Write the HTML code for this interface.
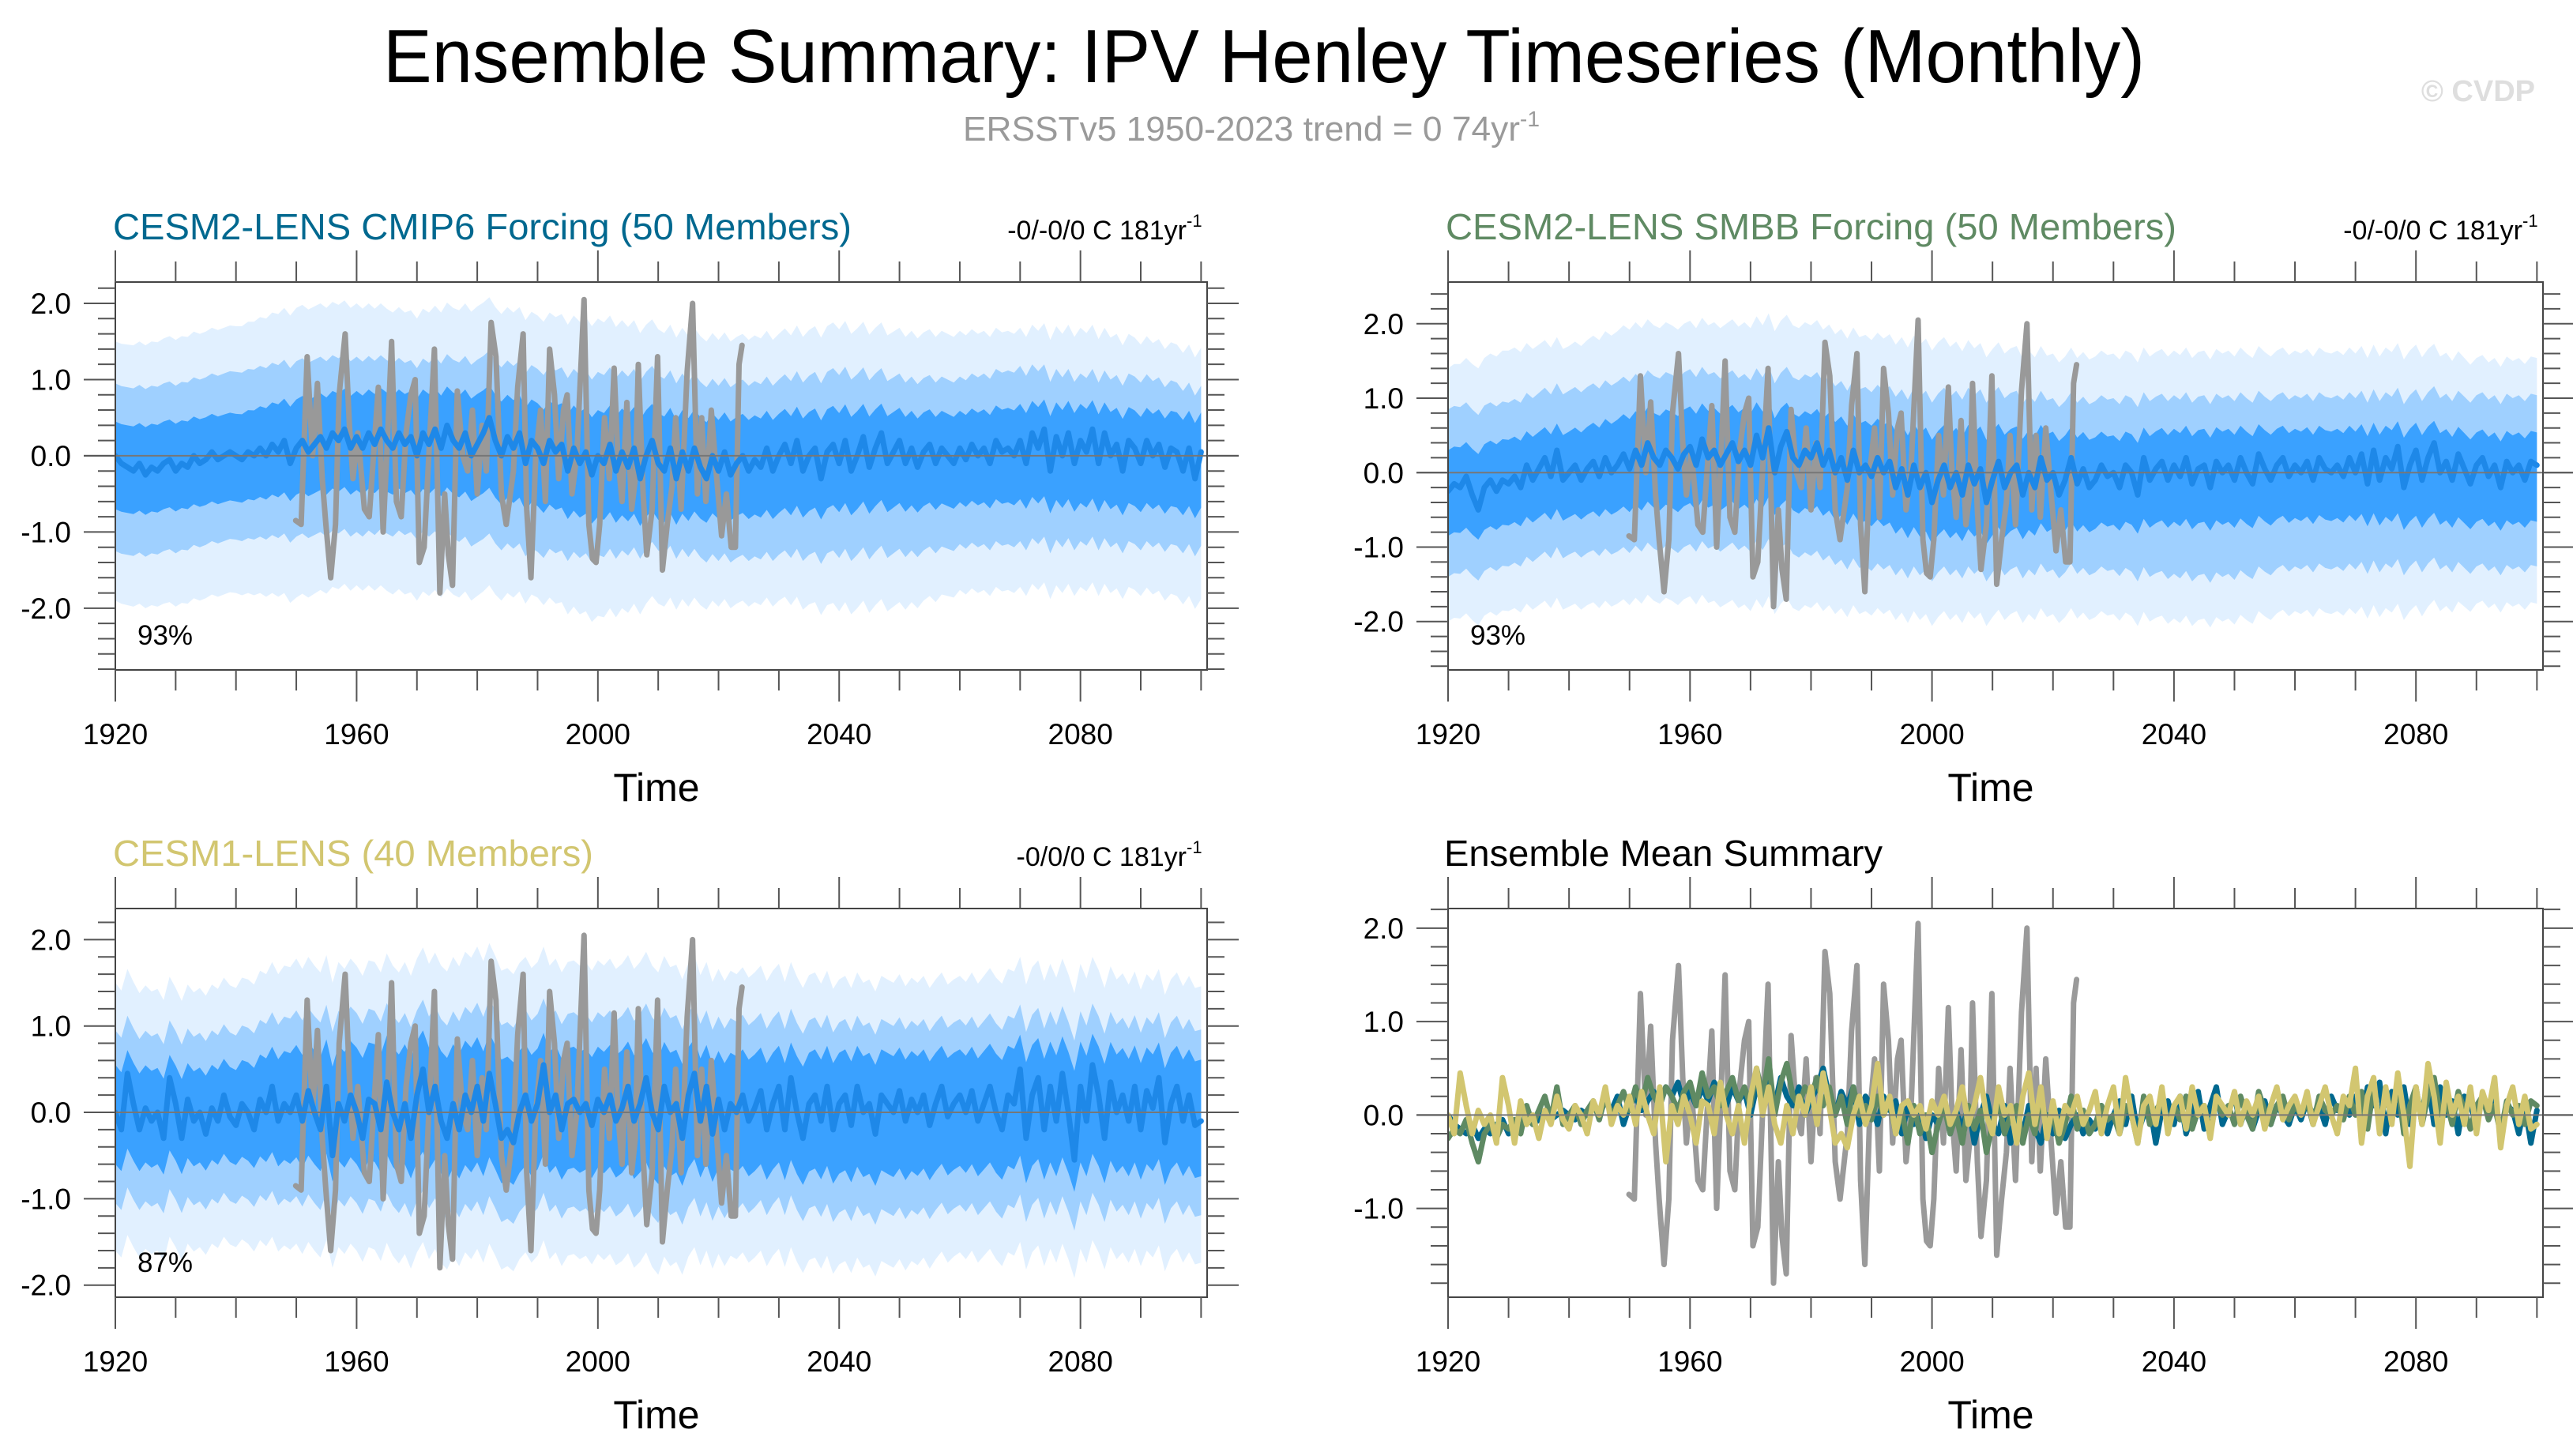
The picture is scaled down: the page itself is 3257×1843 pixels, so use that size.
<!DOCTYPE html>
<html><head><meta charset="utf-8"><title>Ensemble Summary: IPV Henley Timeseries (Monthly)</title>
<style>
html,body{margin:0;padding:0;background:#fff;}
svg{display:block;font-family:"Liberation Sans",Arial,sans-serif;}
</style></head>
<body>
<svg id="fig" xmlns="http://www.w3.org/2000/svg" width="3257" height="1843" viewBox="0 0 3257 1843">
<rect width="3257" height="1843" fill="#fff"/>
<text x="1600" y="104" font-size="96" text-anchor="middle" textLength="2230" lengthAdjust="spacingAndGlyphs">Ensemble Summary: IPV Henley Timeseries (Monthly)</text>
<text x="1219" y="178" font-size="44" fill="#9a9a9a" textLength="730" lengthAdjust="spacingAndGlyphs">ERSSTv5 1950-2023 trend = 0 74yr<tspan dy="-18" font-size="28">-1</tspan></text>
<text x="3209" y="128" font-size="38" fill="#dedede" text-anchor="end" font-weight="bold">© CVDP</text>
<g id="panels"></g>
</svg>
<script>
// ---------- data ----------
const years = [];
for (let y = 1920; y <= 2100; y++) years.push(y);
const meanCMIP6 = [0.0,-0.1,-0.15,-0.2,-0.1,-0.25,-0.15,-0.2,-0.1,-0.05,
-0.2,-0.1,-0.15,0.0,-0.1,-0.05,0.05,-0.05,0.0,0.05,
0.0,-0.05,0.05,0.0,0.1,0.0,0.15,0.05,0.2,-0.1,
0.1,0.2,0.05,0.15,0.25,0.1,0.3,0.2,0.35,0.1,
0.25,0.1,0.3,0.15,0.35,0.2,0.1,0.3,0.15,0.25,
0.0,0.3,0.15,0.35,0.1,0.4,0.2,0.1,0.3,0.0,
0.15,0.3,0.5,0.2,0.0,0.25,0.1,0.3,-0.1,0.2,
0.1,-0.1,0.2,0.05,0.15,-0.2,0.1,-0.1,0.05,-0.25,
0.0,-0.1,0.15,-0.2,0.05,-0.15,0.1,-0.3,0.0,0.2,
-0.1,-0.2,0.1,-0.3,0.05,-0.2,0.1,-0.15,-0.3,0.0,
-0.2,0.05,-0.25,-0.1,0.0,-0.2,-0.05,-0.15,0.1,-0.2,
0.0,0.15,-0.1,0.2,-0.2,0.0,0.1,-0.3,0.05,0.15,
-0.1,0.2,-0.2,0.0,0.25,-0.15,0.1,0.3,-0.1,0.05,
0.2,-0.1,0.1,-0.15,0.05,0.15,-0.1,0.1,0.0,-0.1,
0.1,-0.05,0.15,0.0,0.1,-0.1,0.2,0.05,0.1,0.0,
0.2,-0.1,0.3,0.1,0.35,-0.2,0.25,0.0,0.3,-0.1,
0.2,0.05,0.35,-0.1,0.3,0.0,0.15,-0.2,0.2,0.1,
-0.1,0.2,0.0,0.15,-0.15,0.1,0.05,-0.2,0.1,-0.3,0.05];
const meanSMBB = [-0.25,-0.15,-0.2,-0.05,-0.3,-0.5,-0.2,-0.1,-0.25,-0.1,
-0.15,-0.05,-0.2,0.1,-0.1,0.05,0.2,-0.05,0.3,-0.1,
0.0,0.1,-0.1,0.05,0.15,-0.05,0.2,0.0,0.1,0.25,
0.05,0.3,0.1,0.4,0.2,0.1,0.3,0.2,0.05,0.25,
0.35,0.1,0.45,0.2,0.3,0.1,0.25,0.4,0.15,0.3,
0.1,0.5,0.2,0.6,0.0,0.35,0.55,0.2,0.1,0.3,
0.2,0.4,0.1,0.3,0.0,0.2,-0.1,0.3,0.0,0.1,
-0.05,0.2,0.0,0.15,-0.2,0.05,-0.3,0.1,-0.2,0.0,
-0.4,-0.1,0.1,-0.2,0.0,-0.3,0.1,-0.15,0.05,-0.4,
-0.1,0.15,-0.2,0.0,0.1,-0.3,0.0,-0.2,0.2,-0.1,
0.0,-0.3,-0.1,0.2,-0.15,0.05,-0.2,-0.1,0.1,-0.05,
0.0,-0.2,0.1,0.0,-0.3,0.2,-0.1,0.05,0.15,-0.1,
0.1,-0.05,0.2,-0.15,0.05,0.1,-0.2,0.15,0.0,0.1,
-0.1,0.2,0.0,-0.15,0.25,0.05,-0.1,0.1,0.2,-0.05,
0.1,0.0,0.15,-0.1,0.2,0.05,0.0,0.1,-0.05,0.2,
0.0,0.25,-0.15,0.3,-0.1,0.2,0.05,0.35,-0.2,0.1,
0.3,-0.1,0.2,0.4,0.0,0.15,-0.1,0.25,0.05,-0.15,
0.1,0.2,-0.05,0.1,-0.2,0.15,0.0,0.1,-0.1,0.15,0.1];
const meanCESM1 = [0.0,-0.2,0.45,0.1,-0.2,0.05,-0.1,0.0,-0.3,0.4,
0.1,-0.3,0.15,-0.1,0.0,-0.25,0.05,-0.1,0.2,-0.05,
-0.15,0.1,0.0,-0.2,0.15,0.0,0.3,-0.1,0.1,0.0,
0.2,-0.1,0.25,0.0,-0.2,0.3,-0.5,0.1,-0.1,0.2,
0.0,-0.3,0.15,0.1,-0.2,0.35,0.0,-0.2,0.1,-0.3,
0.2,0.5,0.0,0.3,-0.1,-0.3,0.1,-0.2,0.2,0.0,
0.3,-0.1,0.45,0.1,-0.3,-0.2,-0.35,0.0,0.2,-0.1,
0.1,0.55,0.0,0.2,-0.2,0.1,0.15,0.0,0.1,-0.15,
0.15,0.0,0.2,-0.1,0.05,0.3,-0.1,0.1,0.4,0.0,
-0.2,0.3,0.0,0.1,-0.3,0.2,0.45,-0.1,0.3,-0.25,
0.15,-0.2,0.1,0.0,0.2,-0.1,0.05,0.25,-0.2,0.1,
0.3,-0.2,0.4,0.0,-0.3,0.1,0.2,-0.1,0.3,-0.2,
0.1,0.2,-0.15,0.3,0.0,0.1,-0.25,0.2,0.1,0.0,
0.25,-0.1,0.15,0.0,0.2,-0.15,0.1,0.3,-0.05,0.1,
0.2,0.0,0.25,-0.1,0.1,0.3,0.0,-0.2,0.2,0.1,
0.5,-0.3,0.2,0.4,-0.2,0.3,-0.1,0.45,0.0,-0.55,
0.3,-0.1,0.55,0.2,-0.3,0.35,0.0,0.2,-0.1,0.3,
-0.2,0.25,0.05,0.4,-0.35,0.1,0.3,-0.1,0.2,-0.15,-0.1];
const obsYears = [1949.9,1950.8,1951.8,1952.7,1953.5,1954.3,1954.9,1955.7,1956.5,1957.1,1958.1,1958.8,1959.4,1960.2,1961.3,1962.1,1962.8,1963.6,1964.4,1965.1,1965.8,1966.6,1967.4,1968.2,1969.0,1969.7,1970.4,1971.2,1972.1,1972.9,1973.8,1974.6,1975.2,1975.9,1976.7,1977.6,1978.4,1979.2,1980.0,1980.8,1981.5,1982.3,1983.1,1984.0,1984.8,1986.0,1986.7,1987.6,1988.2,1988.9,1989.7,1990.5,1991.3,1992.0,1992.8,1993.5,1994.3,1994.9,1995.7,1996.5,1997.7,1998.5,1999.1,1999.7,2000.3,2001.1,2001.9,2002.7,2003.3,2004.0,2004.8,2005.6,2006.2,2006.7,2007.5,2008.1,2009.0,2009.9,2010.7,2011.5,2012.3,2012.9,2013.8,2014.8,2015.7,2016.5,2017.2,2017.9,2018.8,2019.6,2020.5,2021.3,2022.1,2022.8,2023.4,2023.9];
const obsValues = [-0.85,-0.9,1.3,0.0,0.95,-0.3,-0.9,-1.6,-0.9,0.8,1.6,0.4,-0.3,0.3,-0.7,-0.8,0.0,0.9,-1.0,0.2,1.5,-0.6,-0.8,0.3,0.8,1.0,-1.4,-1.2,0.2,1.4,-1.8,-0.5,-1.3,-1.7,0.85,0.0,-0.2,0.6,-0.5,0.4,-0.2,1.75,1.3,-0.5,-0.9,-0.2,0.9,1.6,-0.7,-1.6,0.0,0.6,-0.6,1.4,0.8,-0.3,0.6,0.8,-0.5,0.0,2.05,-0.9,-1.35,-1.4,-0.9,0.5,-0.3,1.15,0.0,-0.6,0.7,-0.7,-0.3,1.2,-0.5,-1.3,-0.7,1.3,-1.5,-0.9,-0.4,0.5,-0.7,1.1,2.0,-0.5,0.5,-0.6,0.6,-0.2,-1.05,-0.5,-1.2,-1.2,1.2,1.45];
// spread envelopes per decade (1920..2100), absolute values
const decades = [1920,1930,1940,1950,1960,1970,1980,1990,2000,2010,2020,2030,2040,2050,2060,2070,2080,2090,2100];
const p1ExtHi=[1.5,1.6,1.7,1.9,1.9,1.8,1.9,1.8,1.8,1.7,1.6,1.6,1.7,1.6,1.6,1.6,1.6,1.5,1.4];
const p1ExtLo=[-1.9,-1.9,-1.8,-1.9,-1.8,-1.9,-1.9,-1.9,-2.1,-1.9,-1.9,-1.9,-2.0,-2.0,-1.8,-1.8,-1.8,-1.8,-1.9];
const p1OutHi=[0.95,1.0,1.1,1.2,1.2,1.15,1.2,1.1,1.1,1.1,1.0,1.0,1.1,1.0,1.0,1.1,1.0,1.0,0.9];
const p1OutLo=[-1.25,-1.2,-1.1,-1.1,-1.1,-1.1,-1.2,-1.3,-1.3,-1.2,-1.3,-1.3,-1.3,-1.3,-1.2,-1.2,-1.2,-1.2,-1.2];
const p1InHi=[0.45,0.5,0.55,0.7,0.75,0.75,0.75,0.65,0.6,0.6,0.55,0.55,0.6,0.55,0.55,0.6,0.6,0.55,0.55];
const p1InLo=[-0.7,-0.65,-0.6,-0.55,-0.55,-0.55,-0.6,-0.7,-0.8,-0.8,-0.75,-0.75,-0.7,-0.7,-0.65,-0.65,-0.7,-0.7,-0.7];
const p2ExtHi=[1.5,1.7,1.7,1.9,1.9,1.9,1.9,1.8,1.8,1.7,1.6,1.6,1.6,1.6,1.6,1.6,1.6,1.5,1.5];
const p2ExtLo=[-1.9,-1.8,-1.8,-1.8,-1.8,-1.9,-1.9,-1.9,-1.9,-1.9,-1.9,-1.9,-2.0,-2.0,-1.9,-1.9,-1.9,-1.8,-1.8];
const p2OutHi=[0.95,1.0,1.1,1.2,1.25,1.2,1.2,1.1,1.1,1.1,1.0,1.0,1.0,1.0,1.0,1.0,1.0,1.0,1.0];
const p2OutLo=[-1.3,-1.2,-1.1,-1.1,-1.1,-1.1,-1.2,-1.3,-1.3,-1.3,-1.3,-1.3,-1.4,-1.4,-1.3,-1.3,-1.3,-1.3,-1.3];
const p2InHi=[0.4,0.5,0.55,0.7,0.75,0.75,0.7,0.65,0.6,0.6,0.55,0.5,0.55,0.55,0.55,0.55,0.55,0.5,0.5];
const p2InLo=[-0.75,-0.65,-0.6,-0.55,-0.55,-0.55,-0.6,-0.7,-0.8,-0.8,-0.75,-0.7,-0.7,-0.7,-0.65,-0.65,-0.7,-0.7,-0.7];
const p3ExtHi=[1.5,1.4,1.5,1.7,1.7,1.7,1.8,1.7,1.7,1.7,1.6,1.6,1.5,1.5,1.5,1.6,1.6,1.5,1.5];
const p3ExtLo=[-1.6,-1.6,-1.5,-1.6,-1.6,-1.7,-1.7,-1.7,-1.7,-1.8,-1.7,-1.7,-1.8,-1.8,-1.7,-1.7,-1.7,-1.7,-1.7];
const p3OutHi=[0.95,0.9,0.95,1.1,1.15,1.1,1.15,1.1,1.1,1.1,1.05,1.05,1.0,1.0,1.0,1.05,1.05,1.0,1.0];
const p3OutLo=[-1.05,-1.05,-1.0,-1.05,-1.05,-1.1,-1.15,-1.15,-1.15,-1.2,-1.15,-1.1,-1.2,-1.2,-1.15,-1.15,-1.15,-1.15,-1.15];
const p3InHi=[0.55,0.5,0.55,0.7,0.75,0.75,0.75,0.7,0.7,0.7,0.65,0.65,0.65,0.65,0.65,0.7,0.7,0.65,0.65];
const p3InLo=[-0.6,-0.6,-0.55,-0.6,-0.6,-0.65,-0.7,-0.7,-0.7,-0.75,-0.7,-0.7,-0.75,-0.75,-0.7,-0.7,-0.7,-0.7,-0.7];
const xTickLabels = [1920,1960,2000,2040,2080];
const yTicks1 = [-2.0,-1.0,0.0,1.0,2.0];
const yTicks4 = [-1.0,0.0,1.0,2.0];

// ---------- drawing ----------
const NS = "http://www.w3.org/2000/svg";
const root = document.getElementById('panels');
function mk(tag, attrs, parent) {
  const e = document.createElementNS(NS, tag);
  for (const k in attrs) e.setAttribute(k, attrs[k]);
  (parent || root).appendChild(e);
  return e;
}
function interp(ys, vs, y) {
  if (y <= ys[0]) return vs[0];
  for (let i = 1; i < ys.length; i++) if (y <= ys[i]) {
    const t = (y - ys[i-1]) / (ys[i] - ys[i-1]);
    return vs[i-1] + t * (vs[i] - vs[i-1]);
  }
  return vs[vs.length-1];
}
const panelsCfg = [
  {name:'cmip6', L:146, R:1528, T:357, B:848, ymin:-2.81, ymax:2.28, yt:yTicks1, title:'CESM2-LENS CMIP6 Forcing (50 Members)', tcol:'#00688f', tlen:935, trend:'-0/-0/0 C 181yr', mean:meanCMIP6, ext:[p1ExtHi,p1ExtLo], out:[p1OutHi,p1OutLo], inn:[p1InHi,p1InLo], pct:'93%'},
  {name:'smbb', L:1833, R:3219, T:357, B:848, ymin:-2.65, ymax:2.56, yt:yTicks1, title:'CESM2-LENS SMBB Forcing (50 Members)', tcol:'#5f8a63', tlen:925, trend:'-0/-0/0 C 181yr', mean:meanSMBB, ext:[p2ExtHi,p2ExtLo], out:[p2OutHi,p2OutLo], inn:[p2InHi,p2InLo], pct:'93%'},
  {name:'cesm1', L:146, R:1528, T:1150, B:1642, ymin:-2.14, ymax:2.36, yt:yTicks1, title:'CESM1-LENS (40 Members)', tcol:'#d2c670', tlen:608, trend:'-0/0/0 C 181yr', mean:meanCESM1, ext:[p3ExtHi,p3ExtLo], out:[p3OutHi,p3OutLo], inn:[p3InHi,p3InLo], pct:'87%'},
  {name:'summary', L:1833, R:3219, T:1150, B:1642, ymin:-1.95, ymax:2.21, yt:yTicks4, title:'Ensemble Mean Summary', tcol:'#000', tlen:555, summary:true}
];
panelsCfg.forEach(P => {
  const g = mk('g', {});
  
  
  const xs = v => P.L + (v - 1920) / 181 * (P.R - P.L);
  const ys = v => P.T + (P.ymax - v) / (P.ymax - P.ymin) * (P.B - P.T);
  const clipId = 'clip-' + P.name;
  const cp = mk('clipPath', {id: clipId}, g);
  mk('rect', {x:P.L, y:P.T, width:P.R-P.L, height:P.B-P.T}, cp);
  const plot = mk('g', {'clip-path':'url(#' + clipId + ')'}, g);
  function band(hiArr, loArr, fill, nm, op) {
    let up = [], dn = [];
    years.forEach((yr, i) => {
      const m = P.mean[i] * 0.4;
      up.push(xs(yr).toFixed(1) + ',' + ys(m + interp(decades, hiArr, yr)).toFixed(1));
      dn.unshift(xs(yr).toFixed(1) + ',' + ys(m + interp(decades, loArr, yr)).toFixed(1));
    });
    const p = mk('polygon', {points: up.concat(dn).join(' '), fill: fill, opacity: op}, plot);
    
    
  }
  function line(xv, yv, col, w, nm) {
    const pts = xv.map((x, i) => xs(x).toFixed(1) + ',' + ys(yv[i]).toFixed(1)).join(' ');
    const l = mk('polyline', {points: pts, fill:'none', stroke: col, 'stroke-width': w, 'stroke-linejoin':'round', 'stroke-linecap':'round'}, plot);
    
    
  }
  if (!P.summary) {
    band(P.ext[0], P.ext[1], '#a9d5fe', 'spread-extreme-band', 0.35);
    band(P.out[0], P.out[1], '#9fd0ff', 'spread-outer-band', 1);
    band(P.inn[0], P.inn[1], '#3aa1ff', 'spread-inner-band', 1);
  }
  // zero line
  mk('line', {x1:P.L - 40, x2:P.R + 40, y1:ys(0), y2:ys(0), stroke:'#777', 'stroke-width':2}, g);
  if (!P.summary) {
    line(obsYears, obsValues, '#999999', 7, 'observed-ersst-line');
    line(years, P.mean, '#1e88e8', 7, 'ensemble-mean-line');
  } else {
    line(obsYears, obsValues, '#9a9a9a', 7, 'observed-ersst-line');
    line(years, meanCMIP6, '#00688f', 7, 'cmip6-mean-line');
    line(years, meanSMBB, '#5f8a63', 7, 'smbb-mean-line');
    line(years, meanCESM1, '#d2c670', 7, 'cesm1-mean-line');
  }
  // frame
  const fr = mk('rect', {x:P.L, y:P.T, width:P.R-P.L, height:P.B-P.T, fill:'none', stroke:'#444', 'stroke-width':2}, g);
  
  
  // x ticks
  for (let yr = 1920; yr <= 2100; yr += 10) {
    const major = (yr - 1920) % 40 === 0;
    const len = major ? 40 : 26;
    const x = xs(yr);
    mk('line', {x1:x, x2:x, y1:P.T, y2:P.T - len, stroke:'#555', 'stroke-width':2}, g);
    mk('line', {x1:x, x2:x, y1:P.B, y2:P.B + len, stroke:'#555', 'stroke-width':2}, g);
  }
  xTickLabels.forEach(v => {
    const t = mk('text', {x: xs(v), y: P.B + 94, 'font-size':37, 'text-anchor':'middle'}, g);
    t.textContent = v;
    
    
  });
  // y ticks
  for (let k = Math.ceil(P.ymin * 5); k <= Math.floor(P.ymax * 5); k++) {
    const v = k / 5, y = ys(v);
    const major = k % 5 === 0;
    const len = major ? 40 : 22;
    mk('line', {x1:P.L, x2:P.L - len, y1:y, y2:y, stroke:'#555', 'stroke-width':2}, g);
    mk('line', {x1:P.R, x2:P.R + len, y1:y, y2:y, stroke:'#555', 'stroke-width':2}, g);
  }
  P.yt.forEach(v => {
    const t = mk('text', {x: P.L - 56, y: ys(v) + 13, 'font-size':37, 'text-anchor':'end'}, g);
    t.textContent = v.toFixed(1);
    
    
  });
  // titles
  const tt = mk('text', {x: P.L - (P.summary ? 5 : 3), y: P.T - 54, 'font-size':46, fill:P.tcol, textLength:P.tlen, lengthAdjust:'spacingAndGlyphs'}, g);
  tt.textContent = P.title;
  
  
  if (P.trend) {
    const tr = mk('text', {x: P.R - 26, y: P.T - 54, 'font-size':34, 'text-anchor':'end'}, g);
    tr.textContent = P.trend;
    
    
    const sup = mk('text', {x: P.R - 26, y: P.T - 70, 'font-size':22}, g);
    sup.textContent = '-1';
    
    
    const pc = mk('text', {x: P.L + 28, y: P.B - 32, 'font-size':35}, g);
    pc.textContent = P.pct;
    
    
  }
  const xl = mk('text', {x: (P.L + P.R) / 2 - 6, y: P.B + 166, 'font-size':50, 'text-anchor':'middle'}, g);
  xl.textContent = 'Time';
  
  
});
</script>
</body></html>
